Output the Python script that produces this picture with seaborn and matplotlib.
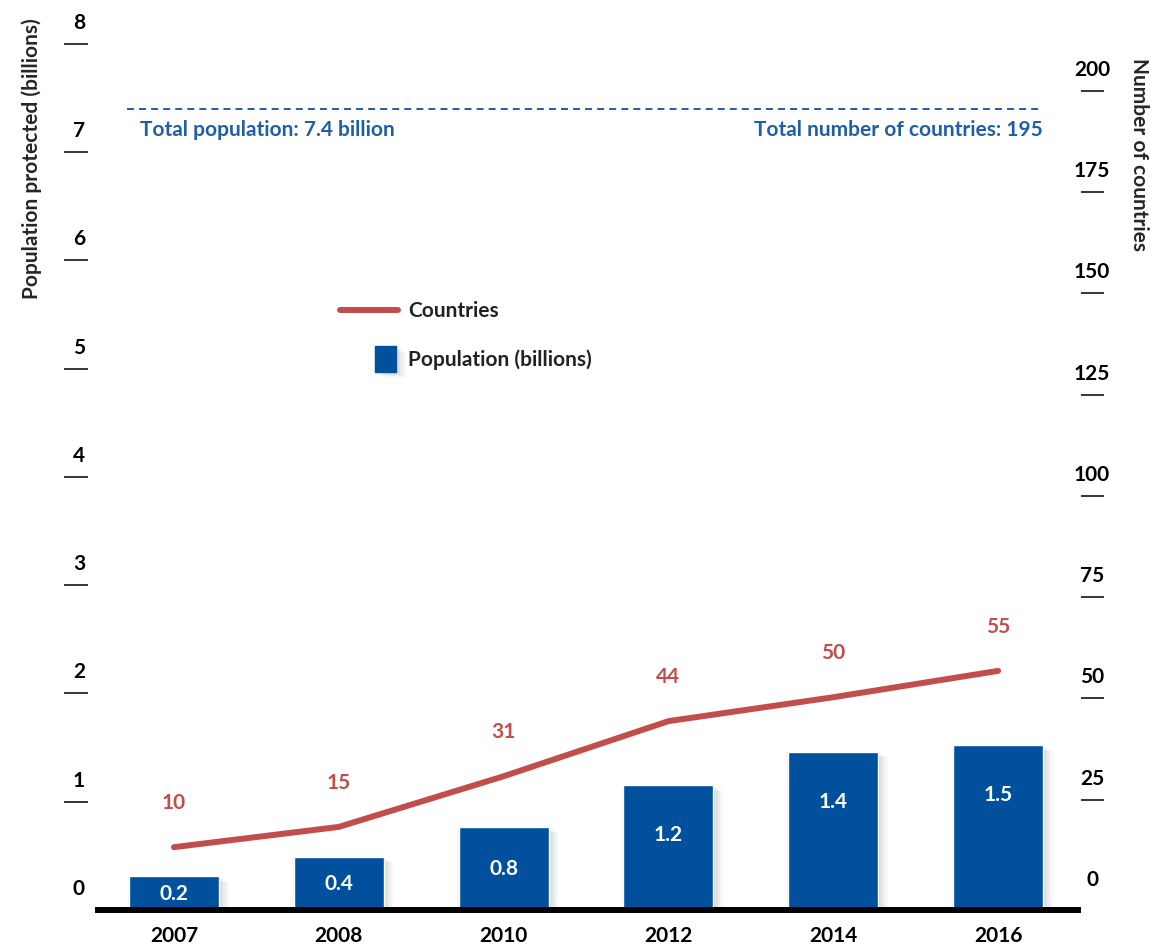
import numpy as np
import pandas as pd
import seaborn as sns
import matplotlib.pyplot as plt
import matplotlib.transforms as mtransforms
import matplotlib.patheffects as pe
from matplotlib.patches import Rectangle
from matplotlib.lines import Line2D

# Data
years = ['2007', '2008', '2010', '2012', '2014', '2016']
population = [0.31, 0.49, 0.77, 1.15, 1.46, 1.52]      # bar heights as drawn (billions)
population_labels = ['0.2', '0.4', '0.8', '1.2', '1.4', '1.5']
countries = [13.3, 18.3, 30.8, 44.4, 50.3, 56.8]      # line as drawn
countries_labels = ['10', '15', '31', '44', '50', '55']
left_ticks = [0, 1, 2, 3, 4, 5, 6, 7, 8]
right_ticks = [0, 25, 50, 75, 100, 125, 150, 175, 200]
total_population = 7.4
total_countries = 195

BLUE = '#00509e'
RED = '#c24e4b'
TEXT_BLUE = '#1f5ea8'
FS = 15

sns.set_theme(style='white')
plt.rcParams['font.family'] = ['Lato', 'DejaVu Sans']
plt.rcParams['font.weight'] = 'bold'

fig = plt.figure(figsize=(11.51, 9.45), dpi=100)
ax = fig.add_axes([0.0851, 0.036, 0.8515, 0.9164])

df = pd.DataFrame({'year': years, 'pos': np.arange(len(years)),
                   'population': population, 'countries': countries})

# --- bars ---
sns.barplot(data=df, x='year', y='population', color=BLUE, width=0.546,
            saturation=1, ax=ax, zorder=2)
shadow = [pe.SimplePatchShadow(offset=(-1, -1), shadow_rgbFace='black', alpha=0.04),
          pe.SimplePatchShadow(offset=(1, -1), shadow_rgbFace='black', alpha=0.06),
          pe.SimplePatchShadow(offset=(3, -2), shadow_rgbFace='black', alpha=0.05),
          pe.SimplePatchShadow(offset=(5, -3), shadow_rgbFace='black', alpha=0.04),
          pe.SimplePatchShadow(offset=(7, -4), shadow_rgbFace='black', alpha=0.03),
          pe.Normal()]
for p in ax.patches:
    p.set_path_effects(shadow)

ax.set_xlim(-0.461, 5.485)
ax.set_ylim(0, 8)
ax.set_xlabel('')
ax.set_ylabel('')

# --- line on second axis ---
ax2 = ax.twinx()
sns.lineplot(data=df, x='pos', y='countries', color=RED, lw=4.3, ax=ax2, sort=False)
ax2.set_ylim(-2.2, 211.5)
ax2.set_xlabel('')
ax2.set_ylabel('')

# spines
for s in ['top', 'left', 'right']:
    ax.spines[s].set_visible(False)
    ax2.spines[s].set_visible(False)
ax2.spines['bottom'].set_visible(False)
ax.spines['bottom'].set_linewidth(4.3)
ax.spines['bottom'].set_color('black')
ax.spines['bottom'].set_zorder(3)

# ticks
ax.spines['left'].set_position(('outward', 7))
ax.set_yticks(left_ticks[1:])
ax.tick_params(axis='y', left=True, length=17.3, width=1.1, color='black',
               direction='out', labelleft=False)
ax2.spines['right'].set_position(('outward', 2))
ax2.set_yticks(right_ticks[1:])
ax2.tick_params(axis='y', right=True, length=16.6, width=1.1, color='black',
                direction='out', labelright=False)
ax.set_xticks(range(len(years)), years)
ax.tick_params(axis='x', length=0, pad=11, labelsize=FS, labelcolor='black')

# tick labels sit above the tick marks
lt = ax.get_yaxis_transform() + mtransforms.ScaledTranslation(-0.19, 0.22, fig.dpi_scale_trans)
for v in left_ticks:
    ax.text(0, v, str(v), transform=lt, ha='center', va='center', fontsize=FS,
            fontweight='bold', color='black')
rt = ax2.get_yaxis_transform() + mtransforms.ScaledTranslation(0.14, 0.22, fig.dpi_scale_trans)
for v in right_ticks:
    ax2.text(1, v, str(v), transform=rt, ha='center', va='center', fontsize=FS,
             fontweight='bold', color='black', clip_on=False)

# value labels
for i, (h, lab) in enumerate(zip(population, population_labels)):
    ax.text(i, max(h / 2, h - 0.45), lab, ha='center', va='center', color='white',
            fontsize=FS, fontweight='bold', zorder=4)
for i, (c, lab) in enumerate(zip(countries, countries_labels)):
    ax2.annotate(lab, (i, c), xytext=(0, 32.4), textcoords='offset points',
                 ha='center', va='center', color=RED, fontsize=FS, fontweight='bold')

# totals reference line
ax.axhline(total_population, xmin=0.0296, xmax=0.964, color=TEXT_BLUE, lw=1.4,
           dashes=(3.6, 2.6))
tt = ax.get_yaxis_transform() + mtransforms.ScaledTranslation(0, -0.20, fig.dpi_scale_trans)
ax.text(0.043, total_population, f'Total population: {total_population} billion',
        transform=tt, ha='left', va='center', color=TEXT_BLUE, fontsize=FS, fontweight='bold')
ax.text(0.964, total_population, f'Total number of countries: {total_countries}',
        transform=tt, ha='right', va='center', color=TEXT_BLUE, fontsize=FS, fontweight='bold')

# axis titles
fig.text(32 / 1151, 1 - 18 / 945, 'Population protected (billions)', rotation=90,
         ha='center', va='top', fontsize=15, fontweight='bold')
fig.text(1139 / 1151, 1 - 58 / 945, 'Number of countries', rotation=270,
         ha='center', va='top', fontsize=15, fontweight='bold')

# legend
fig.add_artist(Line2D([340 / 1151, 398 / 1151], [1 - 311 / 945] * 2, lw=4.3, color=RED))
sq = Rectangle((375 / 1151, 1 - 373 / 945), 21 / 1151, 26 / 945, color=BLUE,
               transform=fig.transFigure)
sq.set_path_effects(shadow)
fig.add_artist(sq)
fig.text(408 / 1151, 1 - 311 / 945, 'Countries', va='center', ha='left', fontsize=FS,
         fontweight='bold', color='#222222')
fig.text(408 / 1151, 1 - 360 / 945, 'Population (billions)', va='center', ha='left',
         fontsize=FS, fontweight='bold', color='#222222')

fig.savefig('out.png', dpi=100)
